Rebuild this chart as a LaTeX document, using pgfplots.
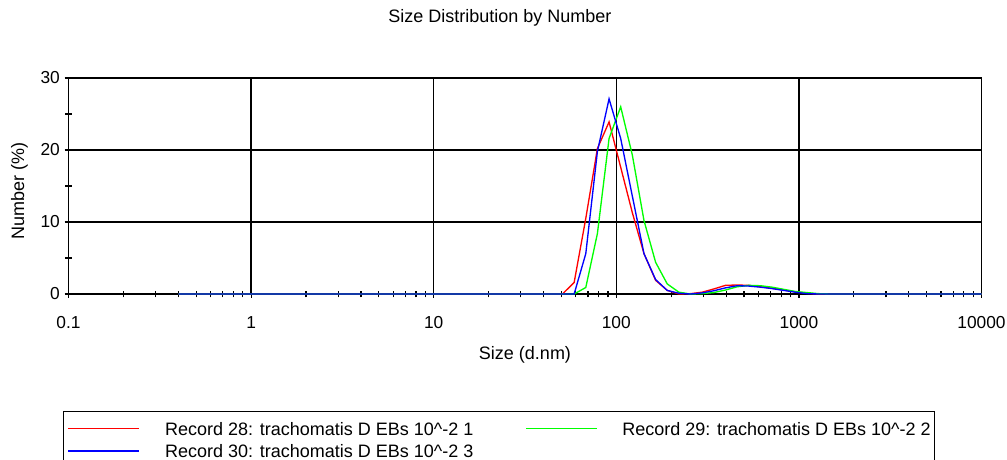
\documentclass[border=0pt]{standalone}
\usepackage{fontspec}
\setmainfont{Liberation Sans}
\usepackage{pgfplots}
\usepackage{pgfplotstable}
\pgfplotsset{compat=1.18}
\pgfplotstableread{
x r g b
0.4 0 0 0
0.4632 0 0 0
0.5365 0 0 0
0.6213 0 0 0
0.7195 0 0 0
0.8332 0 0 0
0.9649 0 0 0
1.117 0 0 0
1.294 0 0 0
1.499 0 0 0
1.736 0 0 0
2.010 0 0 0
2.328 0 0 0
2.696 0 0 0
3.122 0 0 0
3.615 0 0 0
4.187 0 0 0
4.849 0 0 0
5.615 0 0 0
6.503 0 0 0
7.531 0 0 0
8.721 0 0 0
10.10 0 0 0
11.70 0 0 0
13.54 0 0 0
15.69 0 0 0
18.17 0 0 0
21.04 0 0 0
24.36 0 0 0
28.21 0 0 0
32.67 0 0 0
37.84 0 0 0
43.82 0 0 0
50.75 0 0 0
58.77 1.6 0 0
68.06 10.5 0.9 5.6
78.82 20.2 8.4 19.8
91.28 23.9 21.6 27.1
105.7 17.6 26.0 21.6
122.4 11.3 19.3 13.6
141.8 5.6 10.2 5.6
164.2 1.9 4.4 2.0
190.1 0.5 1.4 0.5
220.2 0 0.25 0.1
255.0 0.05 0 0
295.3 0.25 0.05 0.15
342.0 0.7 0.2 0.45
396.1 1.2 0.55 0.85
458.7 1.25 1.0 1.15
531.2 1.2 1.2 1.1
615.1 1.0 1.15 0.95
712.4 0.8 0.95 0.75
825.0 0.55 0.65 0.5
955.4 0.3 0.35 0.25
1106 0.1 0.2 0.05
1281 0 0.05 0
1484 0 0 0
1718 0 0 0
1990 0 0 0
2305 0 0 0
2669 0 0 0
3091 0 0 0
3580 0 0 0
4145 0 0 0
4801 0 0 0
5560 0 0 0
6439 0 0 0
7456 0 0 0
8635 0 0 0
10000 0 0 0
}\datatable
\definecolor{cred}{RGB}{255,0,0}
\definecolor{cgreen}{RGB}{0,255,0}
\definecolor{cblue}{RGB}{0,0,255}
\begin{document}
\begin{tikzpicture}
\useasboundingbox (0,0) rectangle (755.25pt,345pt);
\begin{axis}[
  at={(51.375pt,124.5pt)}, anchor=south west,
  width=684.75pt, height=162pt, scale only axis,
  xmode=log, xmin=0.1, xmax=10000, ymin=0, ymax=30,
  xtick={0.1,1,10,100,1000,10000},
  xticklabels={0.1,1,10,100,1000,10000},
  ytick={0,10,20,30}, yticklabels={0,10,20,30},
  minor ytick={5,15,25},
  tick pos=left,
  tick align=center,
  major tick length=6pt, minor tick length=5pt,
  grid=major,
  major grid style={black, line width=1.1pt},
  axis line style={black, line width=1.2pt},
  every tick/.style={black, line width=0.9pt},
  tick label style={font=\fontsize{13}{15}\selectfont},
  /pgf/number format/assume math mode=true,
  xticklabel style={yshift=-10.5pt},
  clip=false,
  title={Size Distribution by Number},
  title style={at={(axis description cs:0.4726,1.2407)}, anchor=center, font=\fontsize{13.5}{16}\selectfont},
  xlabel={Size (d.nm)},
  xlabel style={at={(axis description cs:0.5,-0.2824)}, anchor=center, font=\fontsize{13.5}{16}\selectfont},
  ylabel={Number (\%)},
  ylabel style={at={(axis description cs:-0.0537,0.477)}, anchor=center, font=\fontsize{13.5}{16}\selectfont},
  legend columns=2,
  legend cell align=left,
  legend style={at={(axis description cs:-0.006,-0.5417)}, anchor=north west,
    draw=black, line width=1.1pt, inner xsep=3pt, inner ysep=4pt,
    column sep=0pt, row sep=0pt, font=\fontsize{13.5}{16}\selectfont,
    nodes={inner sep=0pt, text height=13.5pt, text depth=3.5pt},
    /tikz/every odd column/.append style={column sep=18.75pt}},
  legend image code/.code={\draw[#1, line width=1pt] (0pt,0pt) -- (53.25pt,0pt);},
]
\addplot[cred, line width=1pt] table[x=x, y=r] {\datatable};
\addlegendentry{\makebox[270pt][l]{Record 28: trachomatis D EBs 10\textasciicircum-2 1}}
\addplot[cgreen, line width=1pt] table[x=x, y=g] {\datatable};
\addlegendentry{Record 29: trachomatis D EBs 10\textasciicircum-2 2}
\addplot[cblue, line width=1pt] table[x=x, y=b] {\datatable};
\addlegendentry{Record 30: trachomatis D EBs 10\textasciicircum-2 3}
\end{axis}
\end{tikzpicture}
\end{document}
